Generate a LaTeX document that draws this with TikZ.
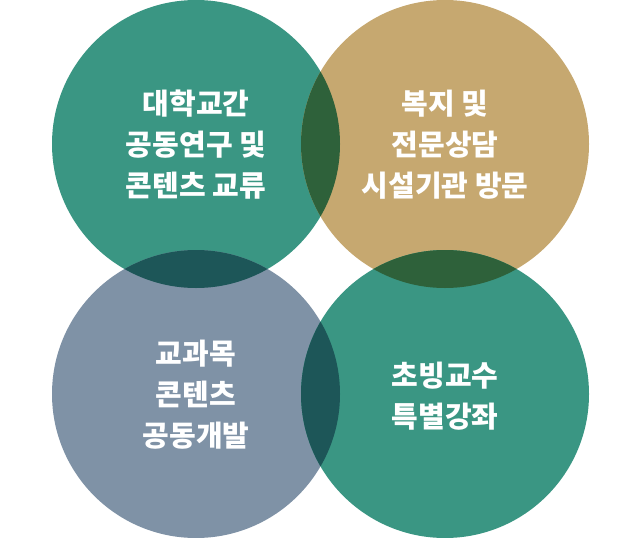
\documentclass[tikz,border=0pt]{standalone}
\usepackage{fontspec}
\newfontfamily\krfont{Noto Sans CJK KR}
\usepackage{tikz}
\usetikzlibrary{calc, positioning}

\begin{document}
\begin{tikzpicture}[x=1pt, y=-1pt,
    ring/.style={circle, minimum size=288pt, inner sep=0pt},
    label/.style={text=white, align=center, font=\krfont\bfseries\fontsize{29}{41}\selectfont}]
    % Màu của các vòng tròn và phần giao nhau
    \definecolor{tealA}{RGB}{58, 150, 131}
    \definecolor{tanB}{RGB}{198, 168, 112}
    \definecolor{grayC}{RGB}{127, 146, 166}
    \definecolor{darkAB}{RGB}{46, 97, 58}
    \definecolor{darkAC}{RGB}{29, 86, 88}

    \useasboundingbox (0,0) rectangle (640,538);

    % 1. Bốn vòng tròn
    \node[ring, fill=tealA] (tl) at (196,144) {};
    \node[ring, fill=tanB] (tr) at (445,144) {};
    \node[ring, fill=grayC] (bl) at (196,394) {};
    \node[ring, fill=tealA] (br) at (445,394) {};

    % 2. Các phần giao nhau
    \begin{scope}
        \clip (tl.center) circle (144);
        \fill[darkAB] (tr.center) circle (144);
        \fill[darkAC] (bl.center) circle (144);
    \end{scope}
    \begin{scope}
        \clip (br.center) circle (144);
        \fill[darkAB] (tr.center) circle (144);
        \fill[darkAC] (bl.center) circle (144);
    \end{scope}

    % 3. Nhãn
    \node[label] (tltext) at (196,145) {대학교간\\공동연구 및\\콘텐츠 교류};
    \node[label] (trtext) at (445,145) {복지 및\\전문상담\\시설기관 방문};
    \node[label] (bltext) at (196,395) {교과목\\콘텐츠\\공동개발};
    \node[label] (brtext) at (445,396) {초빙교수\\특별강좌};
\end{tikzpicture}
\end{document}
